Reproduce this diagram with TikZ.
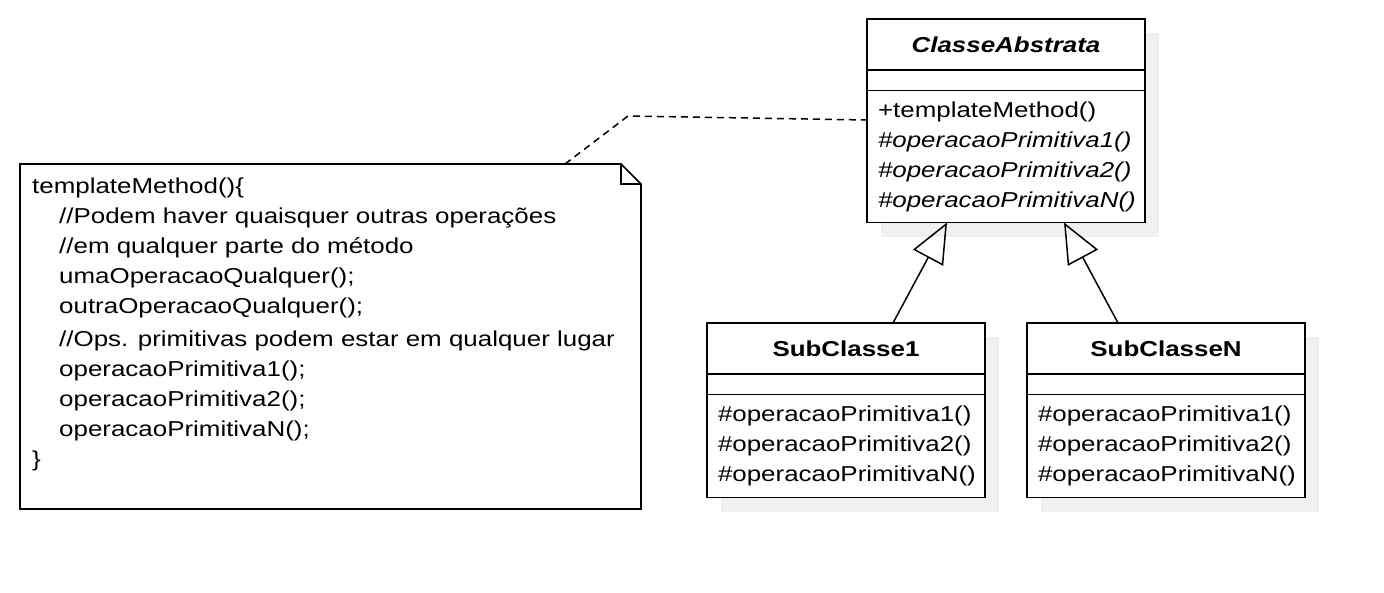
\documentclass[tikz,border=0pt]{standalone}
\usepackage{fontspec}
\setmainfont{Liberation Sans}[FakeStretch=1.2]
\usepackage{tikz}
\usetikzlibrary{arrows.meta,calc,positioning,backgrounds}

\begin{document}
\begin{tikzpicture}[x=1pt, y=-1pt,
  classtitle/.style={rectangle, draw, fill=white, line width=1.7pt, minimum width=278pt, minimum height=51pt, inner sep=0pt, outer sep=0pt, font=\fontsize{21.6}{30}\selectfont\bfseries},
  classattr/.style={rectangle, draw, fill=white, line width=1.7pt, minimum width=278pt, minimum height=20.5pt, inner sep=0pt, outer sep=0pt},
  classops/.style={rectangle, draw, fill=white, line width=1.7pt, minimum width=278pt, inner xsep=11pt, inner ysep=0pt, outer sep=0pt, text width=256pt, align=left, font=\fontsize{21.6}{30}\selectfont},
  notebox/.style={rectangle, draw=none, minimum width=621pt, minimum height=345pt, inner sep=0pt, outer sep=0pt},
  notetext/.style={inner sep=0pt, align=left, font=\fontsize{21.6}{30}\selectfont},
  shadowfill/.style={fill=black!6},
  outline/.style={line width=1.7pt, line join=miter},
  notelink/.style={line width=1.5pt, dash pattern=on 7pt off 5pt},
  inherit/.style={line width=1.5pt, -{Triangle[open, length=40pt, width=34pt]}}
]
\useasboundingbox (0,0) rectangle (1384,592);

% ClasseAbstrata
\node[classtitle] (abstitle) at (1006,44.5) {\textit{ClasseAbstrata}};
\node[classattr, below=0pt of abstitle] (absattr) {};
\node[classops, minimum height=132pt, below=0pt of absattr] (absops) {+templateMethod()\\ \textit{\#operacaoPrimitiva1()}\\ \textit{\#operacaoPrimitiva2()}\\ \textit{\#operacaoPrimitivaN()}};

% SubClasse1
\node[classtitle] (subonetitle) at (846,348.5) {SubClasse1};
\node[classattr, below=0pt of subonetitle] (suboneattr) {};
\node[classops, minimum height=103pt, below=0pt of suboneattr] (suboneops) {\#operacaoPrimitiva1()\\ \#operacaoPrimitiva2()\\ \#operacaoPrimitivaN()};

% SubClasseN
\node[classtitle] (subntitle) at (1166,348.5) {SubClasseN};
\node[classattr, below=0pt of subntitle] (subnattr) {};
\node[classops, minimum height=103pt, below=0pt of subnattr] (subnops) {\#operacaoPrimitiva1()\\ \#operacaoPrimitiva2()\\ \#operacaoPrimitivaN()};

% Shadows
\begin{scope}[on background layer]
\fill[shadowfill] ($(abstitle.north west)+(14,14)$) rectangle ($(absops.south east)+(14,14)$);
\fill[shadowfill] ($(subonetitle.north west)+(14,14)$) rectangle ($(suboneops.south east)+(14,14)$);
\fill[shadowfill] ($(subntitle.north west)+(14,14)$) rectangle ($(subnops.south east)+(14,14)$);
\end{scope}

% Note
\node[notebox] (note) at (330.5,336.5) {};
\draw[outline] (note.north west) -- ($(note.north east)+(-20,0)$) -- ($(note.north east)+(0,20)$) -- (note.south east) -- (note.south west) -- cycle;
\draw[outline] ($(note.north east)+(-20,0)$) |- ($(note.north east)+(0,20)$);
\node[notetext, anchor=north west] (notecode) at ($(note.north west)+(12,14)$) {templateMethod()\{\\
\hspace*{27pt}//Podem haver quaisquer outras operações\\
\hspace*{27pt}//em qualquer parte do método\\
\hspace*{27pt}umaOperacaoQualquer();\\
\hspace*{27pt}outraOperacaoQualquer();\\[3pt]
\hspace*{27pt}//Ops. primitivas podem estar em qualquer lugar\\
\hspace*{27pt}operacaoPrimitiva1();\\
\hspace*{27pt}operacaoPrimitiva2();\\
\hspace*{27pt}operacaoPrimitivaN();\\
\}};

% Connections
\coordinate (linkbend) at (628,116);
\draw[notelink] ($(note.north west)+(545,0)$) -- (linkbend) -- (absops.west |- 0,120);
\draw[inherit] ($(subonetitle.north)+(47,0)$) -- ($(absops.south)+(-59,0)$);
\draw[inherit] ($(subntitle.north)+(-48,0)$) -- ($(absops.south)+(58,0)$);

\end{tikzpicture}
\end{document}
